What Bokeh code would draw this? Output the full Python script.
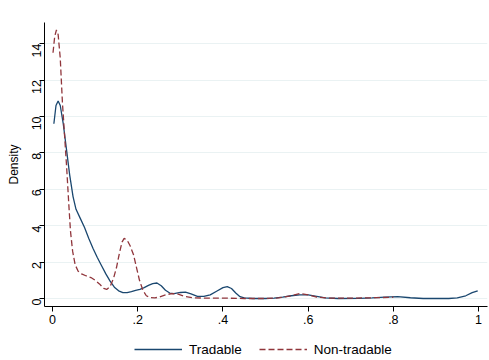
import math
from bokeh.plotting import figure
from bokeh.layouts import column
from bokeh.models import Range1d, FixedTicker, Legend, LegendItem
from bokeh.embed import file_html
from bokeh.resources import INLINE

# Tradable kernel density
trad_x = [0.003, 0.008, 0.013, 0.018, 0.025, 0.032, 0.040, 0.048, 0.055, 0.065,
          0.075, 0.085, 0.095, 0.105, 0.115, 0.125, 0.135, 0.145, 0.155, 0.165,
          0.175, 0.185, 0.195, 0.205, 0.215, 0.225, 0.235, 0.245, 0.255, 0.265,
          0.275, 0.285, 0.300, 0.312, 0.325, 0.340, 0.355, 0.370, 0.385, 0.400,
          0.410, 0.420, 0.430, 0.440, 0.450, 0.470, 0.500, 0.520, 0.540, 0.560,
          0.580, 0.600, 0.620, 0.640, 0.670, 0.720, 0.750, 0.780, 0.810, 0.840,
          0.870, 0.930, 0.950, 0.970, 0.985, 0.998]
trad_y = [9.6, 10.6, 10.85, 10.6, 9.6, 8.3, 6.8, 5.6, 4.9, 4.4,
          3.9, 3.3, 2.75, 2.25, 1.8, 1.35, 0.95, 0.62, 0.42, 0.32,
          0.32, 0.38, 0.45, 0.5, 0.6, 0.72, 0.82, 0.85, 0.7, 0.45,
          0.3, 0.27, 0.33, 0.35, 0.25, 0.12, 0.12, 0.2, 0.4, 0.6,
          0.65, 0.55, 0.3, 0.1, 0.03, 0.0, 0.0, 0.02, 0.08, 0.15,
          0.2, 0.2, 0.12, 0.03, 0.0, 0.01, 0.03, 0.08, 0.1, 0.04,
          0.0, 0.0, 0.03, 0.15, 0.32, 0.42]

# Non-tradable kernel density
nont_x = [0.001, 0.005, 0.009, 0.013, 0.018, 0.023, 0.028, 0.033, 0.038, 0.042,
          0.047, 0.053, 0.060, 0.068, 0.078, 0.090, 0.100, 0.110, 0.120, 0.127,
          0.135, 0.143, 0.150, 0.157, 0.163, 0.168, 0.175, 0.182, 0.190, 0.197,
          0.204, 0.212, 0.220, 0.230, 0.240, 0.250, 0.265, 0.280, 0.293, 0.310,
          0.330, 0.360, 0.400, 0.450, 0.500, 0.530, 0.560, 0.580, 0.600, 0.620,
          0.650, 0.700, 0.750, 0.800]
nont_y = [13.5, 14.4, 14.75, 14.5, 13.2, 10.8, 9.0, 7.2, 5.2, 3.7,
          2.6, 1.85, 1.5, 1.35, 1.25, 1.15, 1.0, 0.8, 0.55, 0.5,
          0.65, 1.1, 1.7, 2.5, 3.1, 3.3, 3.2, 2.9, 2.4, 1.7,
          1.0, 0.45, 0.15, 0.05, 0.03, 0.08, 0.2, 0.27, 0.25, 0.12,
          0.04, 0.02, 0.02, 0.0, 0.0, 0.03, 0.15, 0.27, 0.2, 0.08,
          0.02, 0.02, 0.04, 0.07]

x_ticks = [0, 0.2, 0.4, 0.6, 0.8, 1.0]
x_tick_labels = ["0", ".2", ".4", ".6", ".8", "1"]
y_ticks = [0, 2, 4, 6, 8, 10, 12, 14]
series_names = ["Tradable", "Non-tradable"]

FONT = "Liberation Sans"
NAVY = "#1a476f"
MAROON = "#90353b"
DASH = "6 3"

p = figure(width=489, height=332, output_backend="svg", toolbar_location=None,
           x_range=Range1d(-0.019, 1.021), y_range=Range1d(-0.44, 15.16),
           min_border_left=44, min_border_right=2, min_border_top=22,
           min_border_bottom=26)
p.background_fill_color = "white"
p.border_fill_color = "white"
p.outline_line_color = None

p.line(trad_x, trad_y, line_color=NAVY, line_width=1.3)
p.line(nont_x, nont_y, line_color=MAROON, line_width=1.3, line_dash=DASH)

p.xgrid.grid_line_color = None
p.ygrid.grid_line_color = "#eaf2f3"
p.ygrid.grid_line_width = 1

p.xaxis.ticker = FixedTicker(ticks=x_ticks)
p.xaxis.major_label_overrides = {t: l for t, l in zip(x_ticks, x_tick_labels)}
p.yaxis.ticker = FixedTicker(ticks=y_ticks)
p.yaxis.major_label_orientation = math.pi / 2
p.yaxis.axis_label = "Density"

for ax in (p.xaxis[0], p.yaxis[0]):
    ax.axis_line_color = "black"
    ax.axis_line_width = 1
    ax.major_tick_line_color = "black"
    ax.major_tick_out = 5
    ax.major_tick_in = 0
    ax.minor_tick_line_color = None
    ax.major_label_text_font = FONT
    ax.major_label_text_font_size = "12.5px"
    ax.major_label_text_color = "black"
    ax.major_label_standoff = 3
    ax.axis_label_text_font = FONT
    ax.axis_label_text_font_size = "12px"
    ax.axis_label_text_font_style = "normal"
    ax.axis_label_text_color = "black"
    ax.axis_label_standoff = 4

# Legend strip below the plot (series drawn outside its visible range,
# so only the legend keys show); same side borders as the main plot
lg = figure(width=489, height=28, output_backend="svg", toolbar_location=None,
            x_axis_type=None, y_axis_type=None,
            x_range=Range1d(0, 1), y_range=Range1d(-100, -99),
            min_border_left=44, min_border_right=2, min_border_top=0,
            min_border_bottom=0)
lg.outline_line_color = None
lg.grid.grid_line_color = None
k1 = lg.line(trad_x, trad_y, line_color=NAVY, line_width=1.3)
k2 = lg.line(nont_x, nont_y, line_color=MAROON, line_width=1.3, line_dash=DASH)

legend = Legend(items=[LegendItem(label=series_names[0], renderers=[k1]),
                       LegendItem(label=series_names[1], renderers=[k2])],
                orientation="horizontal", location=(90, 3))
legend.label_text_font = FONT
legend.label_text_font_size = "13.5px"
legend.label_text_color = "black"
legend.glyph_width = 48
legend.glyph_height = 16
legend.label_height = 16
legend.label_standoff = 7
legend.spacing = 17
legend.padding = 2
legend.margin = 0
legend.border_line_color = None
legend.background_fill_alpha = 0
lg.add_layout(legend, "center")

layout = column(p, lg, spacing=0)
open("out.html", "w").write(file_html(layout, INLINE))
